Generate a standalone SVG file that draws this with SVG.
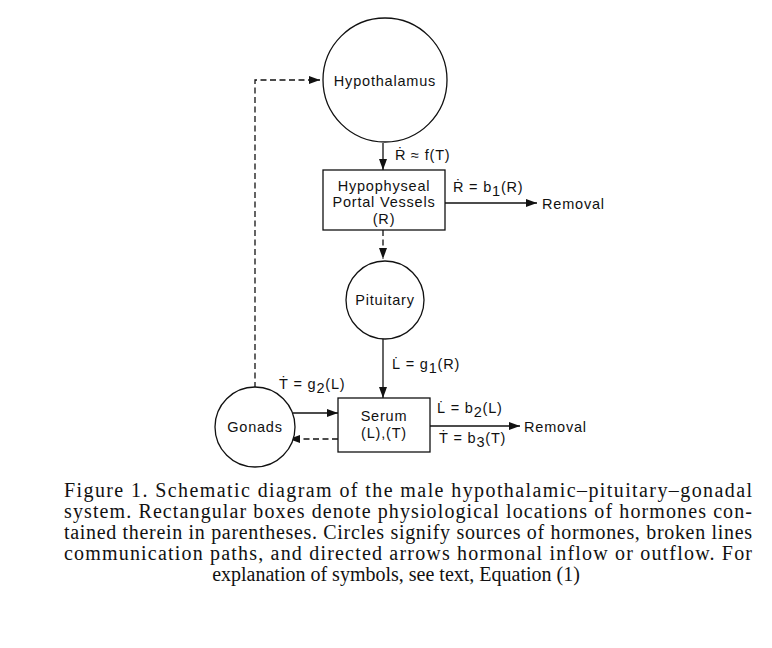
<svg xmlns="http://www.w3.org/2000/svg" width="772" height="648" viewBox="0 0 772 648">
<defs>
<marker id="ah" viewBox="0 0 11 8" refX="11" refY="4" markerWidth="11" markerHeight="8" markerUnits="userSpaceOnUse" orient="auto">
<path d="M0,0 L11,4 L0,8 Z" fill="#111"/>
</marker>
</defs>
<style>
.n{fill:#fff;stroke:#111;stroke-width:1.3}
.t{font-family:"Liberation Sans","DejaVu Sans",sans-serif;font-size:14.5px;letter-spacing:0.8px;fill:#111}
.c{text-anchor:middle}
.l{fill:none;stroke:#111;stroke-width:1.3}
.d{fill:none;stroke:#111;stroke-width:1.3;stroke-dasharray:6,3.5}
.cap{font-family:"Liberation Serif","DejaVu Serif",serif;font-size:20px;fill:#111}
</style>
<rect width="772" height="648" fill="#fff"/>
<g id="connectors">
<path class="d" d="M255,388 V80 H320" marker-end="url(#ah)"/>
<path class="l" d="M383,143 V170" marker-end="url(#ah)"/>
<path class="l" d="M445,203 H537" marker-end="url(#ah)"/>
<path class="d" d="M383,230 V259" marker-end="url(#ah)"/>
<path class="l" d="M383,339 V398" marker-end="url(#ah)"/>
<path class="l" d="M293,413 H338" marker-end="url(#ah)"/>
<path class="d" d="M338,439 H289" marker-end="url(#ah)"/>
<path class="l" d="M430,426 H520" marker-end="url(#ah)"/>
</g>
<g id="hypothalamus">
<circle class="n" cx="385" cy="80" r="62"/>
<text class="t c" x="385" y="86">Hypothalamus</text>
</g>
<g id="portal-vessels">
<rect class="n" x="323" y="170" width="122" height="60"/>
<text class="t c" x="384" y="191">Hypophyseal</text>
<text class="t c" x="384" y="207">Portal Vessels</text>
<text class="t c" x="384" y="224">(R)</text>
</g>
<g id="pituitary">
<circle class="n" cx="385" cy="300" r="39"/>
<text class="t c" x="385" y="305">Pituitary</text>
</g>
<g id="gonads">
<circle class="n" cx="255" cy="427" r="40"/>
<text class="t c" x="255" y="432">Gonads</text>
</g>
<g id="serum">
<rect class="n" x="338" y="398" width="92" height="54"/>
<text class="t c" x="384" y="421">Serum</text>
<text class="t c" x="384" y="438">(L),(T)</text>
</g>
<g id="labels">
<text class="t" x="395" y="160">Ṙ ≈ f(T)</text>
<text class="t" x="453" y="192">Ṙ = b<tspan dy="4">1</tspan><tspan dy="-4">(R)</tspan></text>
<text class="t" x="542" y="209">Removal</text>
<text class="t" x="392" y="369">L̇ = g<tspan dy="4">1</tspan><tspan dy="-4">(R)</tspan></text>
<text class="t" x="279" y="389">Ṫ = g<tspan dy="4">2</tspan><tspan dy="-4">(L)</tspan></text>
<text class="t" x="437" y="413">L̇ = b<tspan dy="4">2</tspan><tspan dy="-4">(L)</tspan></text>
<text class="t" x="439" y="443">Ṫ = b<tspan dy="4">3</tspan><tspan dy="-4">(T)</tspan></text>
<text class="t" x="524" y="432">Removal</text>
</g>
<g id="caption">
<text class="cap" x="64" y="497" textLength="688" lengthAdjust="spacing">Figure 1.  Schematic diagram of the male hypothalamic–pituitary–gonadal</text>
<text class="cap" x="64" y="518" textLength="688" lengthAdjust="spacing">system. Rectangular boxes denote physiological locations of hormones con-</text>
<text class="cap" x="64" y="539" textLength="688" lengthAdjust="spacing">tained therein in parentheses. Circles signify sources of hormones, broken lines</text>
<text class="cap" x="64" y="560" textLength="688" lengthAdjust="spacing">communication paths, and directed arrows hormonal inflow or outflow. For</text>
<text class="cap" x="396" y="581" text-anchor="middle">explanation of symbols, see text, Equation (1)</text>
</g>
</svg>
